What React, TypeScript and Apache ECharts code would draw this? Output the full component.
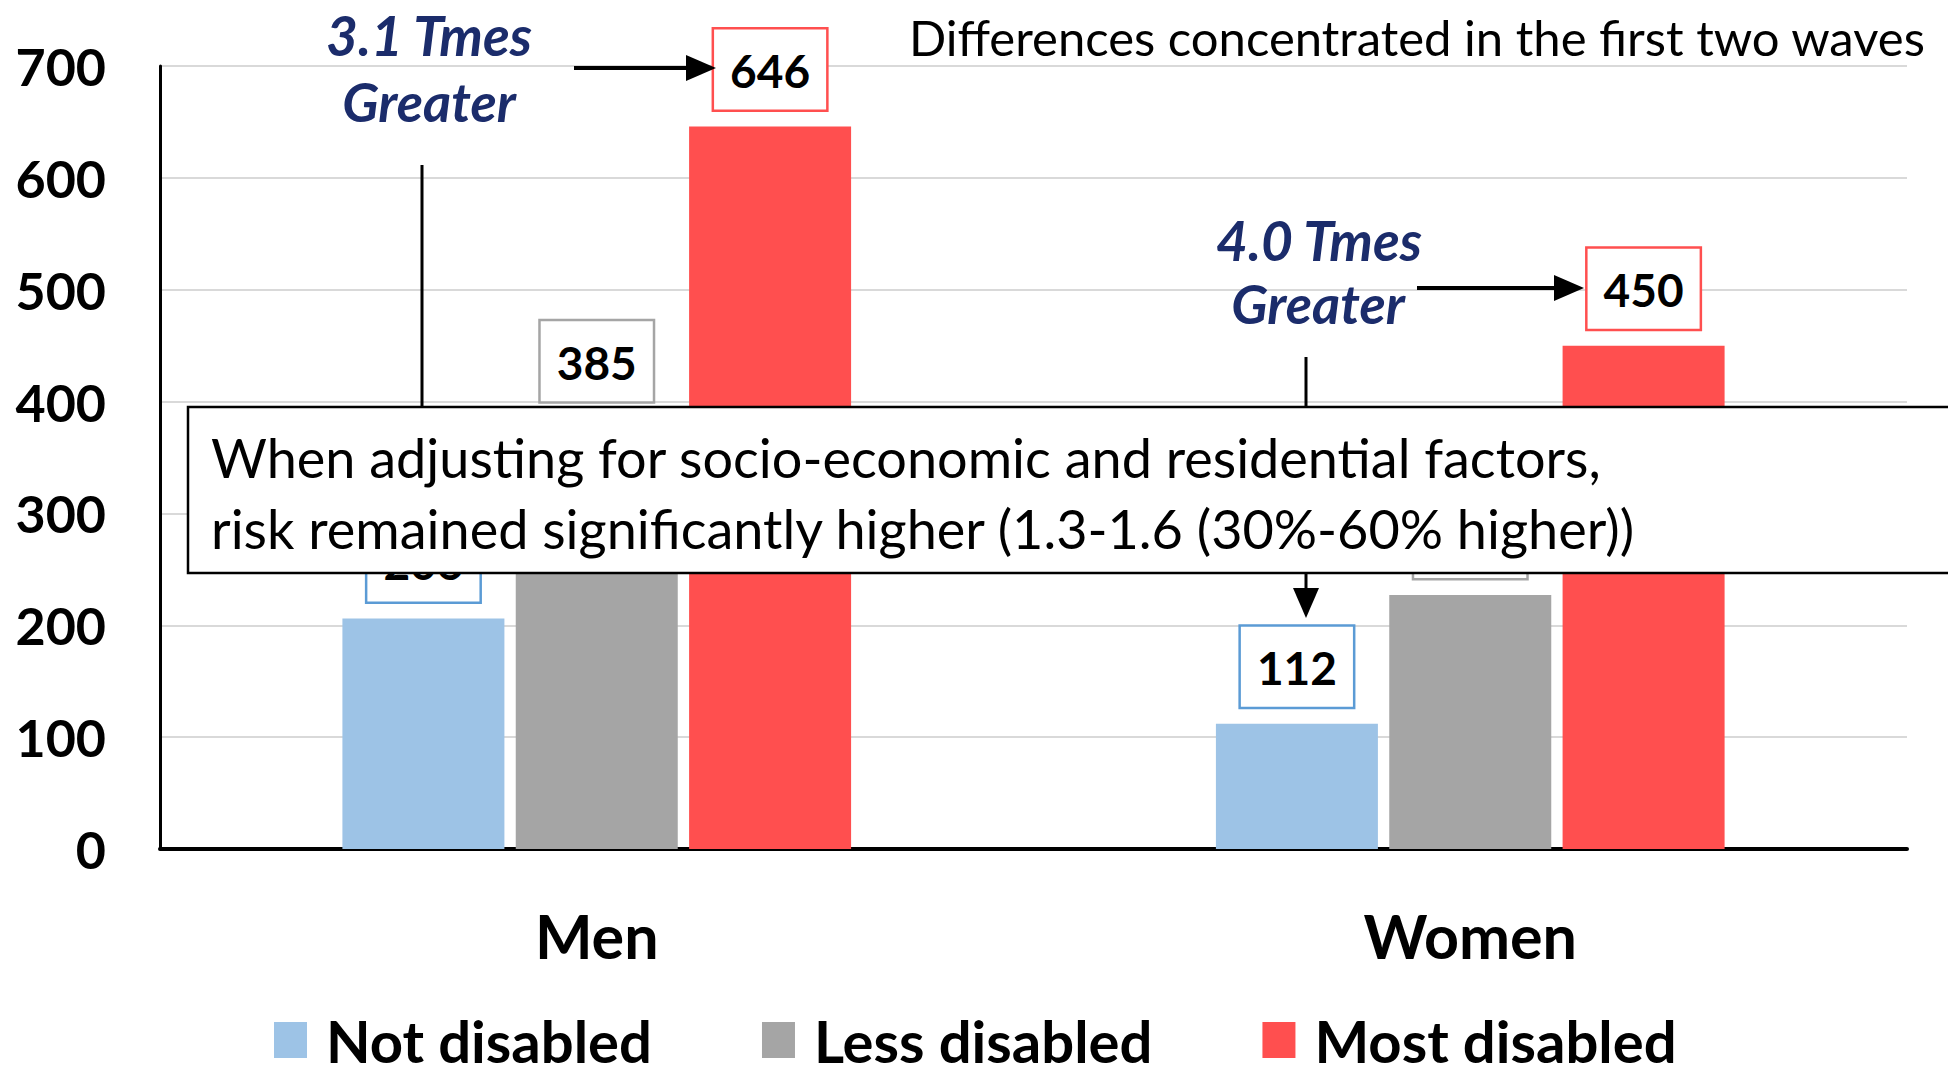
import React, { useEffect, useRef } from "react";
import * as echarts from "echarts";

const categories = ["Men", "Women"];
const seriesNames = ["Not disabled", "Less disabled", "Most disabled"];
const notDisabled = [206, 112];
const lessDisabled = [385, 227];
const mostDisabled = [646, 450];
const yTicks = [0, 100, 200, 300, 400, 500, 600, 700];

const fillColors = ["#9DC3E6", "#A5A5A5", "#FF4F4F"];
const borderColors = ["#5B9BD5", "#A5A5A5", "#FF4F4F"];
const NAVY = "#1B2C6B";
const FONT = "Lato, 'Open Sans', 'Noto Sans', sans-serif";

export default function App() {
  const ref = useRef<HTMLDivElement>(null);
  useEffect(() => {
    if (!ref.current) return;
    const chart = echarts.init(ref.current, null, { renderer: "svg" });
    const values = [notDisabled, lessDisabled, mostDisabled];
    const mkSeries = (i: number) => ({
      name: seriesNames[i],
      type: "bar",
      data: values[i],
      barWidth: 162,
      barGap: "7%",
      itemStyle: { color: fillColors[i] },
      label: {
        show: true,
        position: "top",
        distance: 17,
        color: "#000",
        fontFamily: FONT,
        fontWeight: "bold",
        fontSize: 46,
        lineHeight: 46,
        backgroundColor: "#fff",
        borderColor: borderColors[i],
        borderWidth: 2.5,
        padding: [18, 16, 16, 16],
      },
    });
    const arrowHead = (tipX: number, tipY: number, dir: "right" | "down") =>
      dir === "right"
        ? { type: "polygon", z: 60, shape: { points: [[tipX, tipY], [tipX - 30, tipY - 13], [tipX - 30, tipY + 13]] }, style: { fill: "#000" } }
        : { type: "polygon", z: 60, shape: { points: [[tipX, tipY], [tipX - 13, tipY - 30], [tipX + 13, tipY - 30]] }, style: { fill: "#000" } };
    const annot = (text: string, x: number, y: number, size: number) => ({
      type: "text",
      z: 60,
      style: { text, x, y, align: "center", verticalAlign: "middle", fontFamily: FONT, fontWeight: "bold", fontStyle: "italic", fontSize: size, fill: NAVY },
    });
    chart.setOption({
      animation: false,
      grid: { left: 160, right: 41, top: 66, bottom: 218 },
      legend: {
        data: seriesNames,
        left: 269,
        top: 1006,
        itemWidth: 33,
        itemHeight: 36,
        itemGap: 110,
        icon: "rect",
        textStyle: { fontFamily: FONT, fontWeight: "bold", fontSize: 58, color: "#000", padding: [0, 0, 0, 14] },
      },
      xAxis: {
        type: "category",
        data: categories,
        axisLine: { lineStyle: { color: "#000", width: 4 } },
        axisTick: { show: false },
        axisLabel: { fontFamily: FONT, fontWeight: "bold", fontSize: 61, color: "#000", margin: 56 },
      },
      yAxis: {
        type: "value",
        min: yTicks[0],
        max: yTicks[yTicks.length - 1],
        interval: 100,
        axisLine: { show: true, lineStyle: { color: "#000", width: 3 } },
        axisTick: { show: false },
        axisLabel: { fontFamily: FONT, fontWeight: "bold", fontSize: 52, color: "#000", margin: 54 },
        splitLine: { lineStyle: { color: "#D9D9D9", width: 2 } },
      },
      series: [mkSeries(0), mkSeries(1), mkSeries(2)],
      graphic: [
        { type: "text", z: 60, style: { text: "Differences concentrated in the first two waves", x: 909, y: 37, verticalAlign: "middle", fontFamily: FONT, fontSize: 49, fill: "#000" } },
        annot("3.1 Tmes", 429, 35, 55),
        annot("Greater", 429, 101, 54),
        { type: "line", z: 60, shape: { x1: 574, y1: 68, x2: 690, y2: 68 }, style: { stroke: "#000", lineWidth: 4 } },
        arrowHead(716, 68, "right"),
        { type: "line", z: 60, shape: { x1: 422, y1: 165, x2: 422, y2: 490 }, style: { stroke: "#000", lineWidth: 3 } },
        arrowHead(422, 514, "down"),
        annot("4.0 Tmes", 1319, 240, 55),
        annot("Greater", 1318, 303, 54),
        { type: "line", z: 60, shape: { x1: 1417, y1: 288, x2: 1560, y2: 288 }, style: { stroke: "#000", lineWidth: 4 } },
        arrowHead(1584, 288, "right"),
        { type: "line", z: 60, shape: { x1: 1306, y1: 357, x2: 1306, y2: 592 }, style: { stroke: "#000", lineWidth: 3 } },
        arrowHead(1306, 618, "down"),
        { type: "rect", z: 100, shape: { x: 188, y: 407, width: 1780, height: 166 }, style: { fill: "#fff", stroke: "#000", lineWidth: 2.5 } },
        { type: "text", z: 101, style: { text: "When adjusting for socio-economic and residential factors,", x: 211, y: 457, verticalAlign: "middle", fontFamily: FONT, fontSize: 54, fill: "#000" } },
        { type: "text", z: 101, style: { text: "risk remained significantly higher (1.3-1.6 (30%-60% higher))", x: 211, y: 528, verticalAlign: "middle", fontFamily: FONT, fontSize: 54, fill: "#000" } },
      ],
    });
    return () => chart.dispose();
  }, []);
  return <div ref={ref} style={{ position: "fixed", left: 0, top: 0, width: "1948px", height: "1067px", background: "#fff" }} />;
}
